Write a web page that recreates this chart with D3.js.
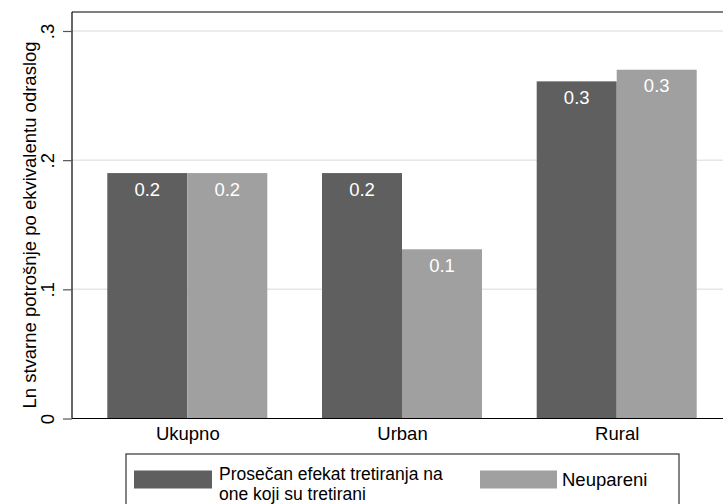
<!DOCTYPE html>
<html>
<head>
<meta charset="utf-8">
<script src="https://cdn.jsdelivr.net/npm/d3@7"></script>
<style>
  body { margin: 0; background: #fff; }
  text { font-family: "Liberation Sans", Arial, sans-serif; }
</style>
</head>
<body>
<div id="chart"></div>
<script>
// data
var categories = ["Ukupno", "Urban", "Rural"];
var seriesNames = ["Prosečan efekat tretiranja na one koji su tretirani", "Neupareni"];
var treated = [0.19, 0.19, 0.261];
var unmatched = [0.19, 0.131, 0.270];
var yTicks = [0, 0.1, 0.2, 0.3];
var yTickLabels = ["0", ".1", ".2", ".3"];
var valueLabels = [["0.2", "0.2", "0.3"], ["0.2", "0.1", "0.3"]];

var colors = ["#5f5f5f", "#a0a0a0"];
var fs = "18.5px";

var W = 723, H = 504;
var margin = {top: 12, right: 0, bottom: 85.5, left: 72};
var height = H - margin.top - margin.bottom;

var svg = d3.select("#chart").append("svg")
    .attr("width", W)
    .attr("height", H);

var y = d3.scaleLinear().domain([0, 0.3147]).range([margin.top + height, margin.top]);

// group centres and the two bars inside each group
var x0 = d3.scalePoint().domain(categories).range([187.3, 616.7]);
var x1 = d3.scaleBand().domain([0, 1]).range([-80, 80]);

// gridlines
svg.append("g")
  .selectAll("line")
  .data(yTicks.slice(1))
  .enter().append("line")
    .attr("x1", margin.left)
    .attr("x2", W)
    .attr("y1", function(d) { return y(d); })
    .attr("y2", function(d) { return y(d); })
    .style("stroke", "#e6e6e6")
    .style("stroke-width", 1.5);

// bars
var rows = categories.map(function(c, i) {
  return {cat: c, vals: [treated[i], unmatched[i]], labels: [valueLabels[0][i], valueLabels[1][i]]};
});

var grp = svg.append("g").selectAll("g")
  .data(rows)
  .enter().append("g")
    .attr("transform", function(d) { return "translate(" + x0(d.cat) + ",0)"; });

var bar = grp.selectAll("g")
  .data(function(d) { return d.vals.map(function(v, k) { return {k: k, v: v, label: d.labels[k]}; }); })
  .enter().append("g");

bar.append("rect")
    .attr("x", function(d) { return x1(d.k); })
    .attr("width", x1.bandwidth())
    .attr("y", function(d) { return y(d.v); })
    .attr("height", function(d) { return y(0) - y(d.v); })
    .style("fill", function(d) { return colors[d.k]; });

bar.append("text")
    .attr("x", function(d) { return x1(d.k) + x1.bandwidth() / 2; })
    .attr("y", function(d) { return y(d.v) + 22.5; })
    .attr("text-anchor", "middle")
    .style("font-size", fs)
    .style("fill", "white")
    .text(function(d) { return d.label; });

// frame: top line
svg.append("line")
    .attr("x1", margin.left).attr("x2", W)
    .attr("y1", margin.top).attr("y2", margin.top)
    .style("stroke", "#000").style("stroke-width", 1.2);

// y axis
var yAxis = svg.append("g")
    .attr("transform", "translate(" + margin.left + ",0)")
    .call(d3.axisLeft(y).tickValues(yTicks).tickSize(9)
      .tickFormat(function(d, i) { return yTickLabels[i]; }));
yAxis.select(".domain").attr("d", "M0," + margin.top + "V" + y(0)).style("stroke-width", 1.2);
yAxis.selectAll(".tick line").style("stroke", "#555").style("stroke-width", 1.2);
yAxis.selectAll(".tick text")
    .attr("x", null).attr("dy", null)
    .attr("transform", "translate(-18,0) rotate(-90)")
    .attr("text-anchor", "middle")
    .style("font-family", "'Liberation Sans', Arial, sans-serif")
    .style("font-size", fs)
    .style("fill", "#000");

// x axis
var xAxis = svg.append("g")
    .attr("transform", "translate(0," + y(0) + ")")
    .call(d3.axisBottom(x0).tickSize(0));
xAxis.select(".domain").attr("d", "M" + margin.left + ",0H" + W).style("stroke-width", 1.2);
xAxis.selectAll(".tick text")
    .attr("y", 21.5).attr("dy", null)
    .style("font-family", "'Liberation Sans', Arial, sans-serif")
    .style("font-size", fs)
    .style("fill", "#000");

// y axis title
svg.append("text")
    .attr("transform", "translate(36,225) rotate(-90)")
    .attr("text-anchor", "middle")
    .style("font-size", fs)
    .text("Ln stvarne potrošnje po ekvivalentu odraslog");

// legend
var legend = svg.append("g");
legend.append("rect")
    .attr("x", 126).attr("y", 454)
    .attr("width", 553).attr("height", 60)
    .style("fill", "white").style("stroke", "#333").style("stroke-width", 1.2);

legend.append("rect")
    .attr("x", 134).attr("y", 470.5).attr("width", 78).attr("height", 18)
    .style("fill", colors[0]);
legend.append("text")
    .attr("x", 219).attr("y", 480)
    .style("font-size", "17.5px")
    .text("Prosečan efekat tretiranja na");
legend.append("text")
    .attr("x", 219).attr("y", 499.5)
    .style("font-size", "17.5px")
    .text("one koji su tretirani");

legend.append("rect")
    .attr("x", 480).attr("y", 470.5).attr("width", 77).attr("height", 18)
    .style("fill", colors[1]);
legend.append("text")
    .attr("x", 562).attr("y", 486)
    .style("font-size", fs)
    .text(seriesNames[1]);
</script>
</body>
</html>
